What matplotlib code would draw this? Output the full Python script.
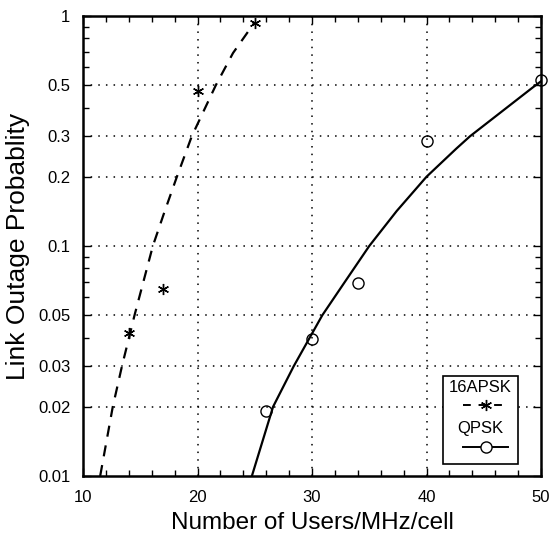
import numpy as np
import matplotlib
matplotlib.use('Agg')
import matplotlib.pyplot as plt
from matplotlib.lines import Line2D
from matplotlib.patches import Rectangle
from matplotlib.ticker import FixedLocator, FixedFormatter, NullFormatter, MultipleLocator

plt.rcParams['font.family'] = ['Liberation Sans', 'DejaVu Sans']

# simulated points
apsk_x = [14, 17, 20, 25]
apsk_y = [0.042, 0.065, 0.47, 0.93]
qpsk_x = [26, 30, 34, 40, 50]
qpsk_y = [0.0192, 0.0394, 0.069, 0.286, 0.527]

# analytic curves
apsk_curve_x = [11.5, 12.6, 13.4, 14.5, 16.1, 17.1, 18.2, 19.5, 21.6, 23.1, 25.0]
apsk_curve_y = [0.01, 0.02, 0.03, 0.05, 0.1, 0.14, 0.2, 0.3, 0.5, 0.69, 0.94]
qpsk_curve_x = [24.75, 26.6, 28.4, 30.9, 32.8, 35.0, 37.4, 40.0, 42.6, 43.8, 49.3, 50.0]
qpsk_curve_y = [0.01, 0.02, 0.03, 0.05, 0.069, 0.1, 0.142, 0.2, 0.265, 0.3, 0.49, 0.52]

ytick_vals = [0.01, 0.02, 0.03, 0.05, 0.1, 0.2, 0.3, 0.5, 1]
ytick_labels = ['0.01', '0.02', '0.03', '0.05', '0.1', '0.2', '0.3', '0.5', '1']

fig = plt.figure(figsize=(5.52, 5.35), dpi=100)
ax = fig.add_axes([83/552, 1 - 476/535, 458/552, 460/535])

ax.plot(apsk_curve_x, apsk_curve_y, 'k--', lw=1.6, dashes=(5, 4))
ax.plot(qpsk_curve_x, qpsk_curve_y, 'k-', lw=1.6)
ax.plot(apsk_x, apsk_y, color='k', ms=8, mew=1.0, linestyle='none', marker=(6, 2, 0))
ax.plot(qpsk_x, qpsk_y, 'ko', ms=8, mfc='none', mew=1.0, linestyle='none', clip_on=False)

ax.set_yscale('log')
ax.set_xlim(10, 50)
ax.set_ylim(0.01, 1)
ax.xaxis.set_major_locator(FixedLocator([10, 20, 30, 40, 50]))
ax.xaxis.set_minor_locator(MultipleLocator(2))
ax.yaxis.set_major_locator(FixedLocator(ytick_vals))
ax.yaxis.set_major_formatter(FixedFormatter(ytick_labels))
minors = [m * 10.0**e for e in (-2, -1) for m in range(2, 10)]
ax.yaxis.set_minor_locator(FixedLocator(minors))
ax.yaxis.set_minor_formatter(NullFormatter())

ax.tick_params(which='both', direction='in', top=True, right=True, labelsize=12, width=1)
ax.tick_params(which='major', length=6)
ax.tick_params(which='minor', length=4)
ax.tick_params(axis='x', pad=10)
ax.tick_params(axis='y', pad=9)
for s in ax.spines.values():
    s.set_linewidth(1.8)

# dotted grid like the original
for gx in [20, 30, 40]:
    ax.axvline(gx, color='k', ls=(0, (1, 4)), lw=1.1, zorder=0)
for gy in [0.02, 0.03, 0.05, 0.1, 0.2, 0.3, 0.5]:
    ax.axhline(gy, color='k', ls=(0, (1, 4)), lw=1.1, zorder=0)

ax.set_xlabel('Number of Users/MHz/cell', fontsize=17.5, labelpad=5)
ax.set_ylabel('Link Outage Probablity', fontsize=19, labelpad=6)

# legend box, text above the line sample
ax.add_patch(Rectangle((0.786, 0.026), 0.164, 0.191, transform=ax.transAxes,
                       fill=True, fc='white', ec='k', lw=1.2, zorder=5))
ax.text(0.868, 0.192, '16APSK', transform=ax.transAxes, ha='center', va='center', fontsize=12, zorder=6)
ax.add_line(Line2D([0.83, 0.928], [0.154, 0.154], transform=ax.transAxes, color='k',
                   ls='--', dashes=(4, 4), lw=1.4, zorder=6))
ax.add_line(Line2D([0.879], [0.154], transform=ax.transAxes, color='k', marker=(6, 2, 0),
                   ms=8, mew=1.0, zorder=6))
ax.text(0.868, 0.103, 'QPSK', transform=ax.transAxes, ha='center', va='center', fontsize=12, zorder=6)
ax.add_line(Line2D([0.83, 0.928], [0.063, 0.063], transform=ax.transAxes, color='k',
                   ls='-', lw=1.4, zorder=6))
ax.add_line(Line2D([0.879], [0.063], transform=ax.transAxes, color='k', marker='o', mfc='white',
                   ms=8, mew=1.0, zorder=7))

fig.savefig('out.png', dpi=100)
